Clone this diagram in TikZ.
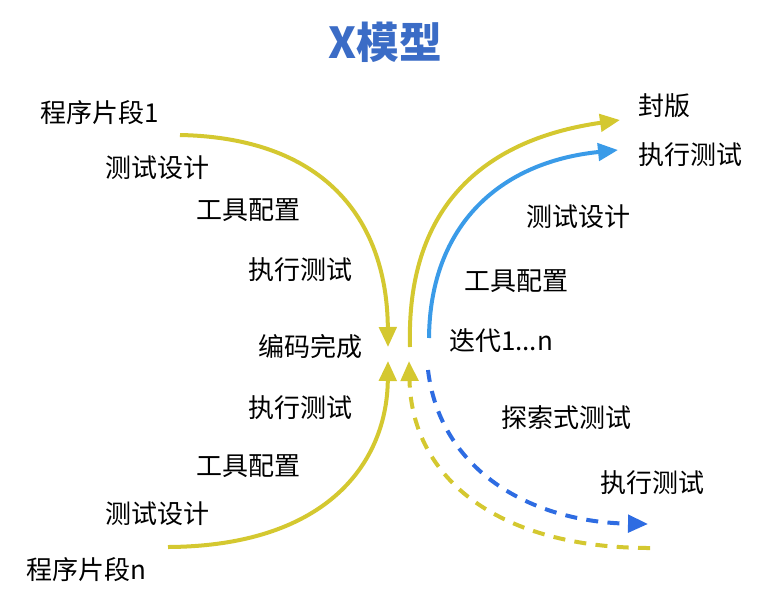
\documentclass[tikz,border=0pt]{standalone}
\usepackage{fontspec}
\setmainfont{Noto Sans CJK SC}
\usetikzlibrary{arrows.meta}
\definecolor{xyellow}{RGB}{212,200,48}
\definecolor{xblue}{RGB}{58,155,232}
\definecolor{xdblue}{RGB}{46,108,226}
\definecolor{xtitle}{RGB}{59,108,198}
\tikzset{
  lbl/.style={font=\fontsize{19.5}{22}\selectfont, inner sep=0pt},
  flow/.style={line width=3pt, -{Triangle[length=15pt,width=13pt]}},
}
\begin{document}
\begin{tikzpicture}[x=0.75pt, y=-0.75pt]
    \useasboundingbox (0,0) rectangle (762,607);
    \node [font=\fontsize{32}{36}\selectfont\bfseries, text=xtitle] (T) at (385,42) {X模型};
    % left side
    \draw (100,113) node [lbl] (P1) {程序片段1}
          (157,168) node [lbl] (D1) {测试设计}
          (248,210) node [lbl] (C1) {工具配置}
          (300,270) node [lbl] (E1) {执行测试}
          (310,347) node [lbl] (M)  {编码完成}
          (300,408) node [lbl] (E2) {执行测试}
          (248,466) node [lbl] (C2) {工具配置}
          (157,514) node [lbl] (D2) {测试设计}
          ( 86,570) node [lbl] (PN) {程序片段n};
    % right side
    \draw (664,106) node [lbl] (R)  {封版}
          (690,155) node [lbl] (E3) {执行测试}
          (578,217) node [lbl] (D3) {测试设计}
          (516,281) node [lbl] (C3) {工具配置}
          (501,341) node [lbl] (I)  {迭代1...n}
          (566,418) node [lbl] (X)  {探索式测试}
          (652,483) node [lbl] (E4) {执行测试};
    \coordinate (a1) at (180,135);  \coordinate (a2) at (388,347);
    \coordinate (b1) at (168,547);  \coordinate (b2) at (388,361);
    \coordinate (c1) at (410,347);  \coordinate (c2) at (620,120);
    \coordinate (d1) at (429,338);  \coordinate (d2) at (618,150);
    \coordinate (e1) at (428,370);  \coordinate (e2) at (648,524);
    \coordinate (f1) at (650,548);  \coordinate (f2) at (409,361);
    \draw [flow, xyellow] (a1) .. controls (330,138) and (387,225) .. (a2);
    \draw [flow, xyellow] (b1) .. controls (330,546) and (387,460) .. (b2);
    \draw [flow, xyellow] (c1) .. controls (406,210) and (480,140) .. (c2);
    \draw [flow, xblue]   (d1) .. controls (430,225) and (500,162) .. (d2);
    \draw [flow, xdblue, dash pattern=on 9pt off 7pt]
          (e1) .. controls (440,470) and (530,522) .. (e2);
    \draw [flow, xyellow, dash pattern=on 9pt off 7pt]
          (f1) .. controls (500,548) and (412,480) .. (f2);
\end{tikzpicture}
\end{document}
